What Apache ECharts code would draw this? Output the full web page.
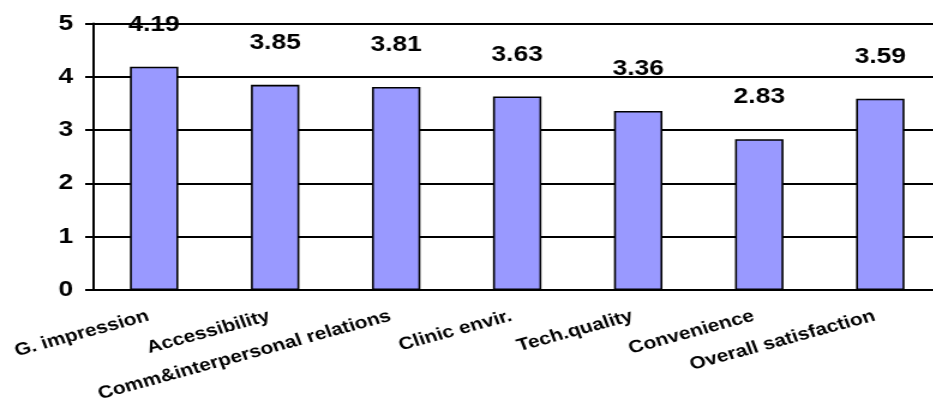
<!DOCTYPE html>
<html>
<head>
<meta charset="utf-8">
<title>Satisfaction scores</title>
<script src="https://cdn.jsdelivr.net/npm/echarts@6/dist/echarts.min.js"></script>
<style>
  html, body { margin: 0; padding: 0; background: #fff; overflow: hidden; }
  /* the source picture is stretched sideways, so the chart is drawn narrower and widened */
  #chart {
    position: absolute; left: 0; top: 0;
    width: 777.5px; height: 408px;
    transform: scaleX(1.2); transform-origin: 0 0;
  }
</style>
</head>
<body>
<div id="chart"></div>
<script>
const categories = [
  'G. impression',
  'Accessibility',
  'Comm&interpersonal relations',
  'Clinic envir.',
  'Tech.quality',
  'Convenience',
  'Overall satisfaction'
];
const scores = [4.19, 3.85, 3.81, 3.63, 3.36, 2.83, 3.59];
const yTicks = [0, 1, 2, 3, 4, 5];

const font = "'Liberation Sans', Arial, sans-serif";
const chart = echarts.init(document.getElementById('chart'));

chart.setOption({
  animation: false,
  grid: {
    left: 78,
    right: -6,
    top: 23.5,
    bottom: 118,
    outerBoundsMode: 'none'
  },
  xAxis: {
    type: 'category',
    data: categories,
    axisLine: { lineStyle: { color: '#000', width: 2 } },
    axisTick: { length: 7, lineStyle: { color: '#000', width: 1.6 } },
    axisLabel: {
      interval: 0,
      rotate: 18,
      margin: 24,
      padding: [0, 5, 0, 0],
      color: '#000',
      fontFamily: font,
      fontWeight: 'bold',
      fontSize: 17.5
    }
  },
  yAxis: {
    type: 'value',
    min: yTicks[0],
    max: yTicks[yTicks.length - 1],
    interval: 1,
    axisLine: { show: true, lineStyle: { color: '#000', width: 2 } },
    axisTick: { show: true, length: 7, lineStyle: { color: '#000', width: 2 } },
    splitLine: { lineStyle: { color: '#000', width: 2 } },
    axisLabel: {
      margin: 17,
      color: '#000',
      fontFamily: font,
      fontWeight: 'bold',
      fontSize: 22
    }
  },
  series: [
    {
      type: 'bar',
      data: scores,
      barWidth: '40%',
      itemStyle: {
        color: '#9999ff',
        borderColor: '#000',
        borderWidth: 1.6
      },
      label: {
        show: true,
        position: 'top',
        distance: 31,
        color: '#000',
        fontFamily: font,
        fontWeight: 'bold',
        fontSize: 22
      }
    }
  ]
});
</script>
</body>
</html>
